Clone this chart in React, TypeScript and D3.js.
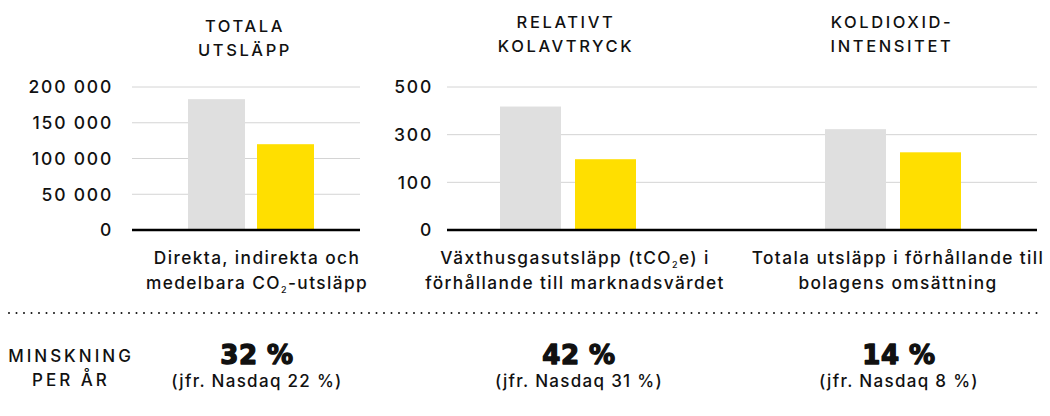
import React from "react";
import * as d3 from "d3";

// ---- data ----
const seriesNames = ["Tidigare", "Nu"];
const seriesColors = ["#dfdfdf", "#ffdf00"];

const totalTicks = [0, 50000, 100000, 150000, 200000];
const totalValues = [183000, 120000];

const relTicks = [0, 100, 300, 500];
const relativeValues = [418, 197];
const intensityValues = [323, 226];

const titles = [["TOTALA", "UTSLÄPP"], ["RELATIVT", "KOLAVTRYCK"], ["KOLDIOXID-", "INTENSITET"]];
const reductions = ["32 %", "42 %", "14 %"];
const nasdaq = ["(jfr. Nasdaq 22 %)", "(jfr. Nasdaq 31 %)", "(jfr. Nasdaq 8 %)"];

// ---- layout ----
const W = 1050, H = 416;
const Y0 = 230, YTOP = 87;
const FONT = "Inter, 'Noto Sans', sans-serif";
const INK = "#111";

const locale = d3.formatLocale({ decimal: ",", thousands: " ", grouping: [3], currency: ["", " kr"] });
const fmt = locale.format(",d");

function bandFor(cx: number, bw: number, gap: number) {
  return d3.scaleBand<string>()
    .domain(seriesNames)
    .range([cx - bw - gap / 2, cx + bw + gap / 2])
    .paddingInner(gap / (bw + gap))
    .paddingOuter(0);
}

export default function App() {
  const yTotal = d3.scaleLinear().domain([0, 200000]).range([Y0, YTOP]);
  const yRel = d3.scaleLinear()
    .domain(relTicks)
    .range(relTicks.map((_, i) => Y0 - (i * (Y0 - YTOP)) / (relTicks.length - 1)));

  const panels = [
    { cx: 251, bw: 57, gap: 12, values: totalValues, y: yTotal },
    { cx: 568, bw: 61, gap: 14, values: relativeValues, y: yRel },
    { cx: 893, bw: 61, gap: 14, values: intensityValues, y: yRel },
  ];
  const titleCx = [245, 566, 892];
  const subCx = [257, 575, 898];
  const botCx = [257, 579, 899];

  const bars = (p: typeof panels[0], k: number) => {
    const x = bandFor(p.cx, p.bw, p.gap);
    return p.values.map((v, i) => (
      <rect key={`b${k}-${i}`} x={x(seriesNames[i])} y={p.y(v)} width={x.bandwidth()}
        height={Y0 - p.y(v)} fill={seriesColors[i]} />
    ));
  };

  const sub = (s: string) => <tspan fontSize={9} dy={4}>{s}</tspan>;
  const txt = { fontSize: 17.3, fontWeight: 500, letterSpacing: 1.4 };
  const small = { fontSize: 17, fontWeight: 500, letterSpacing: 1.3 };
  const tick = { fontSize: 17.5, fontWeight: 500, letterSpacing: 1.8 };

  return (
    <svg width={W} height={H} style={{ position: "absolute", left: 0, top: 0, background: "#fff" }}
      fontFamily={FONT} fill={INK}>
      {/* titles */}
      {titles.map((t, k) => (
        <text key={`t${k}`} x={titleCx[k]} textAnchor="middle" fontSize={16.5} fontWeight={500} letterSpacing={2.6}>
          <tspan x={titleCx[k]} y={k === 0 ? 32 : 28}>{t[0]}</tspan>
          <tspan x={titleCx[k]} y={k === 0 ? 56 : 52}>{t[1]}</tspan>
        </text>
      ))}

      {/* panel 1 grid */}
      {totalTicks.filter(d => d > 0).map(d => (
        <line key={`g1-${d}`} x1={132} x2={360} y1={yTotal(d)} y2={yTotal(d)} stroke="#d4d4d4" strokeWidth={1} />
      ))}
      {totalTicks.map(d => (
        <text key={`l1-${d}`} x={113} y={yTotal(d)} dy="0.36em" textAnchor="end" {...tick}>{fmt(d)}</text>
      ))}

      {/* panel 2-3 grid */}
      {relTicks.filter(d => d > 0).map(d => (
        <line key={`g2-${d}`} x1={447} x2={1037} y1={yRel(d)} y2={yRel(d)} stroke="#d4d4d4" strokeWidth={1} />
      ))}
      {relTicks.map(d => (
        <text key={`l2-${d}`} x={433} y={yRel(d)} dy="0.36em" textAnchor="end" {...tick}>{fmt(d)}</text>
      ))}

      {panels.map((p, k) => bars(p, k))}

      {/* baselines */}
      <line x1={132} x2={360} y1={Y0} y2={Y0} stroke="#000" strokeWidth={2.5} />
      <line x1={447} x2={1037} y1={Y0} y2={Y0} stroke="#000" strokeWidth={2.5} />

      {/* subtitles */}
      <text textAnchor="middle" {...txt}>
        <tspan x={subCx[0]} y={264}>Direkta, indirekta och</tspan>
        <tspan x={subCx[0]} y={289}>medelbara CO{sub("2")}<tspan dy={-4}>-utsläpp</tspan></tspan>
      </text>
      <text textAnchor="middle" {...txt}>
        <tspan x={subCx[1]} y={264}>Växthusgasutsläpp (tCO{sub("2")}<tspan dy={-4}>e) i</tspan></tspan>
        <tspan x={subCx[1]} y={289}>förhållande till marknadsvärdet</tspan>
      </text>
      <text textAnchor="middle" {...txt}>
        <tspan x={subCx[2]} y={264}>Totala utsläpp i förhållande till</tspan>
        <tspan x={subCx[2]} y={289}>bolagens omsättning</tspan>
      </text>

      {/* dotted separator */}
      <line x1={9} x2={1040} y1={313} y2={313} stroke="#111" strokeWidth={2}
        strokeDasharray="0 7.5" strokeLinecap="round" />

      {/* bottom row */}
      <text textAnchor="middle" fontSize={17} fontWeight={500} letterSpacing={3}>
        <tspan x={71} y={362}>MINSKNING</tspan>
        <tspan x={71} y={386}>PER ÅR</tspan>
      </text>
      {reductions.map((r, k) => (
        <text key={`r${k}`} x={botCx[k]} y={364} textAnchor="middle" fontSize={26} fontWeight={700}
          letterSpacing={0.5} stroke={INK} strokeWidth={1.4} strokeLinejoin="round"
          fontFamily="'DejaVu Sans', sans-serif">{r}</text>
      ))}
      {nasdaq.map((r, k) => (
        <text key={`n${k}`} x={botCx[k]} y={387} textAnchor="middle" {...small}>{r}</text>
      ))}
    </svg>
  );
}
